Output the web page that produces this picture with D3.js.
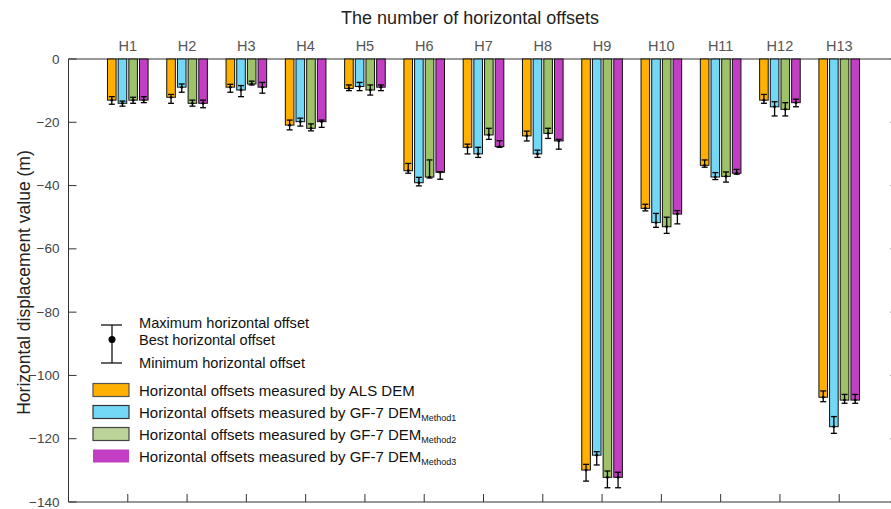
<!DOCTYPE html>
<html>
<head>
<meta charset="utf-8">
<script src="https://cdn.jsdelivr.net/npm/d3@7.9.0/dist/d3.min.js"></script>
<style>
  body { margin: 0; background: #fff; }
  svg { font-family: Arial, "Liberation Sans", sans-serif; }
</style>
</head>
<body>
<svg id="chart" width="891" height="509"></svg>
<script>
const categories = ['H1','H2','H3','H4','H5','H6','H7','H8','H9','H10','H11','H12','H13'];

// best offsets (bar ends)
const als  = [-13.0, -12.1, -8.9, -20.9, -9.3, -35.3, -27.9, -24.3, -129.9, -47.2, -33.6, -13.0, -106.9];
const gf1  = [-14.0, -8.9, -9.8, -19.8, -8.7, -39.1, -30.0, -30.0, -125.2, -51.7, -37.3, -15.1, -116.2];
const gf2  = [-13.0, -14.0, -7.9, -21.9, -9.8, -37.3, -24.0, -23.5, -132.2, -53.0, -37.1, -15.9, -107.8];
const gf3  = [-13.0, -14.0, -8.9, -19.8, -8.9, -35.8, -27.7, -25.9, -132.2, -49.0, -36.1, -13.8, -107.8];

// upper whisker ends
const alsHi = [-11.9, -11.2, -8.0, -19.3, -8.2, -33.0, -26.9, -22.8, -128.1, -45.9, -31.9, -11.2, -104.9];
const gf1Hi = [-13.3, -7.9, -8.4, -18.7, -7.4, -37.4, -27.9, -28.8, -124.1, -48.8, -35.9, -13.5, -113.0];
const gf2Hi = [-12.1, -13.0, -7.0, -20.5, -8.2, -31.9, -21.9, -21.9, -130.2, -50.0, -35.7, -13.8, -106.0];
const gf3Hi = [-11.9, -13.0, -7.4, -19.3, -8.2, -35.6, -25.8, -25.4, -130.6, -47.9, -34.9, -12.7, -106.0];

// lower whisker ends
const alsLo = [-14.3, -14.0, -10.5, -22.4, -10.0, -36.1, -30.0, -25.9, -133.4, -48.0, -34.2, -14.0, -108.3];
const gf1Lo = [-14.9, -10.5, -11.9, -21.2, -10.0, -40.1, -31.1, -31.1, -128.3, -53.2, -38.1, -18.0, -118.3];
const gf2Lo = [-14.0, -14.9, -8.2, -22.7, -11.4, -37.6, -25.4, -25.1, -135.5, -55.1, -38.9, -18.0, -108.8];
const gf3Lo = [-13.8, -15.4, -10.8, -21.6, -10.0, -38.0, -27.9, -28.5, -135.5, -52.1, -36.4, -15.1, -108.8];

const yTicks = [0, -20, -40, -60, -80, -100, -120, -140];

const series = [
  { vals: als, hi: alsHi, lo: alsLo, color: '#FFB000', legend: '#FFB000', border: '#555', label: 'Horizontal offsets measured by ALS DEM', sub: '' },
  { vals: gf1, hi: gf1Hi, lo: gf1Lo, color: '#72D8F6', legend: '#72D8F6', border: '#333', label: 'Horizontal offsets measured by GF-7 DEM', sub: 'Method1' },
  { vals: gf2, hi: gf2Hi, lo: gf2Lo, color: '#9DC267', legend: '#BCD49A', border: '#444', label: 'Horizontal offsets measured by GF-7 DEM', sub: 'Method2' },
  { vals: gf3, hi: gf3Hi, lo: gf3Lo, color: '#C23EC2', legend: '#C23EC2', border: 'none', label: 'Horizontal offsets measured by GF-7 DEM', sub: 'Method3' },
];

const svg = d3.select('#chart');
const mLeft = 68.5, mRight = 898.5, mTop = 59, mBottom = 502;

const x = d3.scaleLinear().domain([0, 14]).range([mLeft, mRight]);
const y = d3.scaleLinear().domain([0, -140]).range([mTop, mBottom]);

const barStep = 0.18, barW = 0.145;

// axis box
const axisColor = '#333';
svg.append('line').attr('x1', mLeft).attr('x2', mRight).attr('y1', mTop).attr('y2', mTop).attr('stroke', axisColor);
svg.append('line').attr('x1', mLeft).attr('x2', mRight).attr('y1', mBottom).attr('y2', mBottom).attr('stroke', axisColor);
svg.append('line').attr('x1', mLeft).attr('x2', mLeft).attr('y1', mTop).attr('y2', mBottom).attr('stroke', axisColor);
svg.append('line').attr('x1', mRight).attr('x2', mRight).attr('y1', mTop).attr('y2', mBottom).attr('stroke', axisColor);

// left and right y ticks (inward)
yTicks.forEach(t => {
  svg.append('line').attr('x1', mLeft).attr('x2', mLeft + 8).attr('y1', y(t)).attr('y2', y(t)).attr('stroke', axisColor);
  svg.append('line').attr('x1', mRight).attr('x2', mRight - 8).attr('y1', y(t)).attr('y2', y(t)).attr('stroke', axisColor);
  svg.append('text').attr('x', mLeft - 9).attr('y', y(t) + 4.5)
    .attr('text-anchor', 'end').attr('font-size', 13.5).attr('fill', '#444')
    .text(t === 0 ? '0' : '\u2212' + Math.abs(t));
});

// category ticks and labels
categories.forEach((c, i) => {
  svg.append('line').attr('x1', x(i + 1)).attr('x2', x(i + 1)).attr('y1', mBottom).attr('y2', mBottom - 8).attr('stroke', axisColor);
  svg.append('text').attr('x', x(i + 1)).attr('y', 51)
    .attr('text-anchor', 'middle').attr('font-size', 14.5).attr('fill', '#555')
    .text(c);
});

// bars
series.forEach((s, si) => {
  const off = (si - 1.5) * barStep;
  const g = svg.append('g');
  g.selectAll('rect').data(s.vals).enter().append('rect')
    .attr('x', (d, i) => x(i + 1 + off - barW / 2))
    .attr('y', y(0))
    .attr('width', x(barW) - x(0))
    .attr('height', d => y(d) - y(0))
    .attr('fill', s.color)
    .attr('stroke', '#111')
    .attr('stroke-width', 1);
});

// error bars
series.forEach((s, si) => {
  const off = (si - 1.5) * barStep;
  s.vals.forEach((v, i) => {
    const cx = x(i + 1 + off);
    const eg = svg.append('g').attr('stroke', '#000').attr('stroke-width', 1.3);
    eg.append('line').attr('x1', cx).attr('x2', cx).attr('y1', y(s.hi[i])).attr('y2', y(s.lo[i]));
    eg.append('line').attr('x1', cx - 3).attr('x2', cx + 3).attr('y1', y(s.hi[i])).attr('y2', y(s.hi[i]));
    eg.append('line').attr('x1', cx - 3).attr('x2', cx + 3).attr('y1', y(s.lo[i])).attr('y2', y(s.lo[i]));
    svg.append('circle').attr('cx', cx).attr('cy', y(v)).attr('r', 1.4).attr('fill', '#000');
  });
});

// title and axis label
svg.append('text').attr('x', 470).attr('y', 24).attr('text-anchor', 'middle')
  .attr('font-size', 18).attr('fill', '#222').text('The number of horizontal offsets');
svg.append('text').attr('transform', `translate(30,${(mTop + mBottom) / 2 + 2}) rotate(-90)`)
  .attr('text-anchor', 'middle').attr('font-size', 17.5).attr('fill', '#222')
  .text('Horizontal displacement value (m)');

// legend: error bar symbol
const lg = svg.append('g');
lg.append('line').attr('x1', 112).attr('x2', 112).attr('y1', 325).attr('y2', 363).attr('stroke', '#111').attr('stroke-width', 1.3);
lg.append('line').attr('x1', 101).attr('x2', 122).attr('y1', 325).attr('y2', 325).attr('stroke', '#111').attr('stroke-width', 1.3);
lg.append('line').attr('x1', 101).attr('x2', 122).attr('y1', 363).attr('y2', 363).attr('stroke', '#111').attr('stroke-width', 1.3);
lg.append('circle').attr('cx', 112).attr('cy', 339.5).attr('r', 3.5).attr('fill', '#000');
[['Maximum horizontal offset', 328], ['Best horizontal offset', 344.5], ['Minimum horizontal offset', 368]].forEach(([t, yy]) => {
  lg.append('text').attr('x', 139).attr('y', yy).attr('font-size', 14.6).attr('fill', '#111').text(t);
});

// legend: series swatches
series.forEach((s, si) => {
  const yy = 383.5 + si * 22;
  lg.append('rect').attr('x', 93).attr('y', yy).attr('width', 36).attr('height', 13)
    .attr('fill', s.legend).attr('stroke', s.border).attr('stroke-width', s.border === 'none' ? 0 : 1.2);
  const t = lg.append('text').attr('x', 139).attr('y', yy + 12).attr('font-size', 15).attr('fill', '#111');
  t.append('tspan').text(s.label);
  if (s.sub) t.append('tspan').attr('dy', 3).attr('font-size', 9).text(s.sub);
});
</script>
</body>
</html>
